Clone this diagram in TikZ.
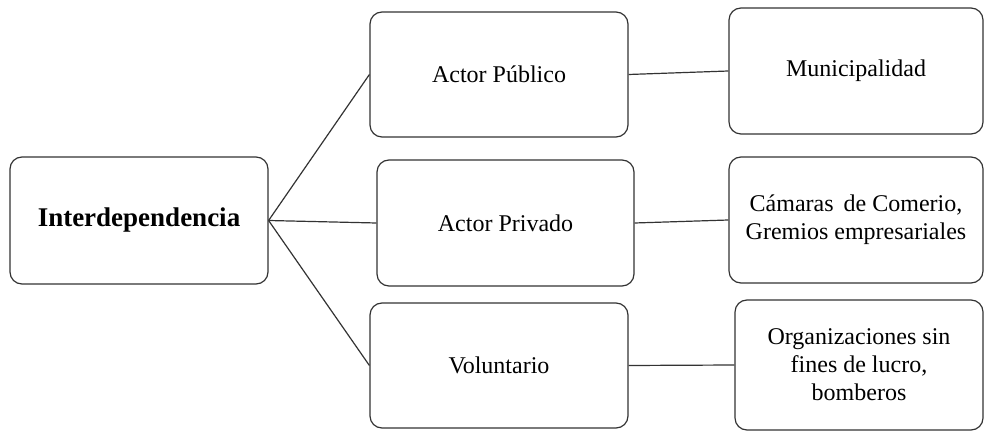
\documentclass[tikz,border=0pt]{standalone}
\usepackage{fontspec}
\setmainfont{Liberation Serif}

\tikzstyle{link}=[draw=black!80, line width=0.6pt]
\tikzstyle{box}=[rectangle, rounded corners=6pt, draw=black!80, line width=0.6pt, align=center, font=\fontsize{12}{14}\selectfont, inner sep=2pt]

\begin{document}
\begin{tikzpicture}[x=0.5pt,y=-0.5pt]
        \useasboundingbox (0,0) rectangle (984,432);
        \draw (139,220.5) node[box, minimum width=129pt, minimum height=63.5pt, font=\fontsize{13.5}{16}\selectfont\bfseries](inter){Interdependencia};
        \draw (499,74.5) node[box, minimum width=129pt, minimum height=62.5pt](pub){Actor Público};
        \draw (505.5,223) node[box, minimum width=128.5pt, minimum height=63pt](priv){Actor Privado};
        \draw (499,365.5) node[box, minimum width=129pt, minimum height=62.5pt](vol){Voluntario};
        \draw (856,71) node[box, minimum width=127pt, minimum height=63pt](muni){Municipalidad};
        \draw (856,220) node[box, minimum width=127pt, minimum height=63pt](cam){Cámaras\, de Comerio,\\Gremios empresariales};
        \draw (859,365) node[box, minimum width=124pt, minimum height=65pt](org){Organizaciones sin\\fines de lucro,\\bomberos};
        %
        \path
            (inter.east)    edge[link]    (pub.west)
            (inter.east)    edge[link]    (priv.west)
            (inter.east)    edge[link]    (vol.west)
            (pub.east)      edge[link]    (muni.west)
            (priv.east)     edge[link]    (cam.west)
            (vol.east)      edge[link]    (org.west)
        ;
        %;
\end{tikzpicture}
\end{document}
